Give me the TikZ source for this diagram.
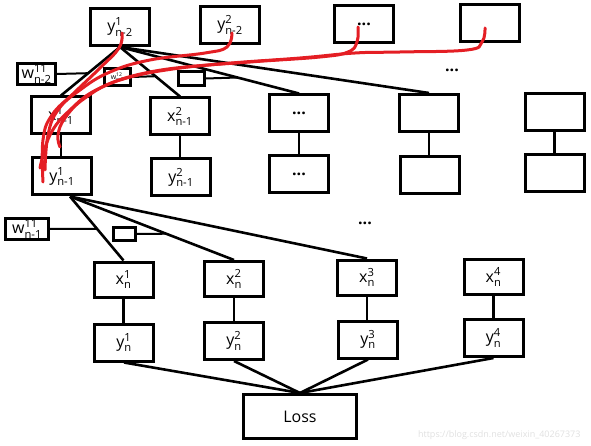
\documentclass[tikz,border=0pt]{standalone}
\usepackage{amsmath}
\usepackage{fontspec}
\setmainfont{Open Sans}
\usetikzlibrary{calc}
\definecolor{pen}{RGB}{228,30,36}
\newcommand{\tlab}[3]{$\text{#1}^{\text{#2}}_{\text{#3}}$}

\begin{document}
\begin{tikzpicture}[x=1pt, y=-1pt, font=\fontsize{16}{18}\selectfont,
    box/.style={draw, line width=3pt, minimum width=59pt, minimum height=37pt, inner sep=0pt},
    wbox/.style={draw, line width=2.6pt, inner sep=0pt},
    link/.style={line width=2.6pt},
    wlink/.style={line width=2pt},
    scribble/.style={draw=pen, line width=3pt, line cap=round, line join=round}]
  \useasboundingbox (0,0) rectangle (591,446);

  % layer n-2
  \node[box] (a1) at (120,27) {\tlab{y}{1}{n-2}};
  \node[box] (a2) at (230,25) {\tlab{y}{2}{n-2}};
  \node[box] (a3) at (364,24.5) {\textbf{...}};
  \node[box] (a4) at (489.5,23.5) {};
  \node (dtop) at (452,70) {\textbf{...}};

  % weights n-2
  \node[wbox, minimum width=38pt, minimum height=21pt] (w1) at (36.5,74) {\tlab{w}{11}{n-2}};
  \node[wbox, minimum width=26pt, minimum height=17pt, font=\fontsize{7}{8}\selectfont] (w2) at (117.5,77) {\tlab{w}{12}{n-2}};
  \node[wbox, minimum width=26pt, minimum height=14pt] (w3) at (191.5,78.5) {};

  % layer n-1
  \node[box] (b1) at (61,115.5) {\tlab{x}{1}{n-1}};
  \node[box] (b2) at (180,116.5) {\tlab{x}{2}{n-1}};
  \node[box] (b3) at (299,113.5) {\textbf{...}};
  \node[box] (b4) at (429,113) {};
  \node[box] (b5) at (554.5,112) {};
  \node[box] (c1) at (62,176.5) {\tlab{y}{1}{n-1}};
  \node[box] (c2) at (181,177.5) {\tlab{y}{2}{n-1}};
  \node[box] (c3) at (299,174.5) {\textbf{...}};
  \node[box] (c4) at (429.5,175.5) {};
  \node[box] (c5) at (555,173.5) {};
  \node (dlow) at (365,223) {\textbf{...}};

  % weights n-1
  \node[wbox, minimum width=43pt, minimum height=21pt] (v1) at (27,229) {\tlab{w}{11}{n-1}};
  \node[wbox, minimum width=22pt, minimum height=13pt] (v2) at (124.5,234) {};

  % layer n
  \node[box, minimum height=35pt] (x1) at (123.5,279.5) {\tlab{x}{1}{n}};
  \node[box, minimum height=35pt] (x2) at (234,279) {\tlab{x}{2}{n}};
  \node[box, minimum height=35pt] (x3) at (367,277.5) {\tlab{x}{3}{n}};
  \node[box, minimum height=35pt] (x4) at (493.5,277) {\tlab{x}{4}{n}};
  \node[box] (y1) at (124,342.5) {\tlab{y}{1}{n}};
  \node[box] (y2) at (234,341) {\tlab{y}{2}{n}};
  \node[box] (y3) at (368,339.5) {\tlab{y}{3}{n}};
  \node[box] (y4) at (493.5,338) {\tlab{y}{4}{n}};
  \node[box, minimum width=113pt, minimum height=44pt] (loss) at (300,416.5) {Loss};

  % connections
  \coordinate (a1o) at (a1.south);
  \foreach \j in {1,...,4} \draw[link] (a1o) -- (b\j.north);
  \draw[wlink] (w1.east) -- ($(a1o)!0.54!(b1.north)$);
  \draw[wlink] (w2.east) -- ($(a1o)!0.59!(b2.north)$);
  \draw[wlink] (w3.east) -- ($(a1o)!0.656!(b3.north)$);
  \foreach \i in {1,...,5} \draw[link] (b\i.south) -- (b\i.south |- c\i.north);
  \coordinate (c1o) at ([xshift=8pt]c1.south);
  \foreach \j in {1,2,3} \draw[link] (c1o) -- (x\j.north);
  \draw[wlink] (v1.east) -- ($(c1o)!0.507!(x1.north)$);
  \draw[wlink] (v2.east) -- ($(c1o)!0.586!(x2.north)$);
  \foreach \k in {1,...,4} {
    \draw[link] (x\k.south) -- (x\k.south |- y\k.north);
    \draw[link] (y\k.south) -- (loss.north);
  }

  % red pen strokes
  \draw[scribble] plot[smooth, tension=0.7] coordinates {(122,33) (119,48) (100,68) (75,92) (52,115) (43,140) (43,182)};
  \draw[scribble] plot[smooth, tension=0.7] coordinates {(232,33) (227,47) (205,53) (150,60) (110,72) (80,90) (58,110) (48,135) (45,170)};
  \draw[scribble] plot[smooth, tension=0.7] coordinates {(358,27) (357,42) (348,52) (320,57) (250,62) (180,68) (120,80) (85,98) (65,118) (58,135) (60,147)};
  \draw[scribble] plot[smooth, tension=0.7] coordinates {(485,28) (482,42) (467,50) (400,52) (355,53) (300,58) (220,64) (150,72) (100,88) (70,110) (50,135) (40,168)};

  \node[anchor=east, text=black!12, font=\fontsize{9}{10}\selectfont] (mark) at (584,435) {https://blog.csdn.net/weixin\_40267373};
\end{tikzpicture}
\end{document}
